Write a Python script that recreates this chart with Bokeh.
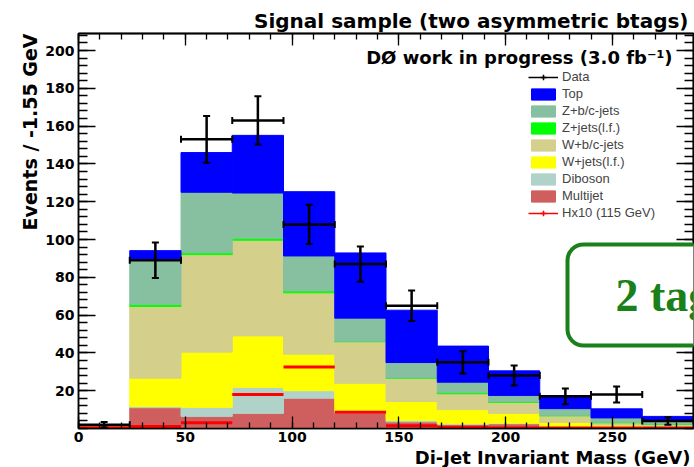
import math
from bokeh.plotting import figure
from bokeh.models import (ColumnDataSource, FixedTicker, LinearAxis, Range1d, Legend,
                          LegendItem, Label, BoxAnnotation, Whisker, TeeHead, Title)
from bokeh.embed import file_html
from bokeh.resources import INLINE

# ---------------- data ----------------
bin_edges = [0, 24, 48, 72, 96, 120, 144, 168, 192, 216, 240, 264, 288]
multijet = [0.3, 11.0, 6.4, 8.0, 16.0, 8.0, 3.5, 2.0, 2.5, 1.0, 0.8, 0.5]
diboson = [0.0, 0.6, 4.8, 13.8, 4.0, 0.6, 0.8, 0.5, 0.3, 0.2, 0.2, 0.1]
wjets_lf = [0.8, 15.0, 29.2, 27.2, 19.3, 15.3, 10.0, 7.5, 5.2, 2.0, 0.8, 0.6]
wjets_bc = [0.3, 38.0, 51.6, 50.6, 32.5, 22.0, 12.3, 8.4, 5.8, 3.5, 1.2, 1.0]
zjets_lf = [0.1, 1.0, 1.0, 1.0, 1.0, 0.3, 0.2, 0.6, 0.4, 0.3, 0.3, 0.2]
zjets_bc = [0.2, 24.0, 32.0, 24.0, 18.5, 12.2, 8.1, 5.5, 3.3, 3.5, 2.3, 1.5]
top = [0.1, 4.5, 21.0, 30.5, 34.0, 34.5, 27.7, 19.1, 13.0, 6.2, 4.8, 2.5]
data = [2, 89, 153, 163, 108, 87, 65, 35, 28, 17, 18, 4]
higgs_x10 = [0.4, 1.0, 3.0, 18.0, 32.6, 8.6, 1.5, 0.7, 0.3, 0.2, 0.2, 0.2]

stack_names = ["multijet", "diboson", "wjets_lf", "wjets_bc", "zjets_lf", "zjets_bc", "top"]
stack_labels = ["Multijet", "Diboson", "W+jets(l.f.)", "W+b/c-jets", "Z+jets(l.f.)",
                "Z+b/c-jets", "Top"]
stack_colors = ["#cf5e5e", "#b0d2c8", "#ffff00", "#d4cf8a", "#00ff00", "#86c0a0", "#0000ff"]

y_ticks = [20, 40, 60, 80, 100, 120, 140, 160, 180, 200]
x_ticks = [0, 50, 100, 150, 200, 250]

# ---------------- sources ----------------
left = bin_edges[:-1]
right = bin_edges[1:]
centers = [(a + b) / 2 for a, b in zip(left, right)]
widths = [b - a for a, b in zip(left, right)]

src = ColumnDataSource(dict(x=centers, w=widths, multijet=multijet, diboson=diboson,
                            wjets_lf=wjets_lf, wjets_bc=wjets_bc, zjets_lf=zjets_lf,
                            zjets_bc=zjets_bc, top=top))
err = [math.sqrt(d) for d in data]
dsrc = ColumnDataSource(dict(x=centers, y=data, lo=[d - e for d, e in zip(data, err)],
                             hi=[d + e for d, e in zip(data, err)], x0=left, x1=right))
hsrc = ColumnDataSource(dict(x0=left, x1=right, y=higgs_x10))

FONT = "DejaVu Sans"

p = figure(width=694, height=467, x_range=Range1d(0, 288), y_range=Range1d(0, 209),
           output_backend="svg", toolbar_location=None,
           min_border_left=78, min_border_right=1, min_border_top=33, min_border_bottom=39)
p.background_fill_color = "white"
p.border_fill_color = "white"
p.xgrid.visible = False
p.ygrid.visible = False
p.outline_line_color = "black"
p.outline_line_width = 1.5

# title (right aligned, ROOT style)
p.title.text = "Signal sample (two asymmetric btags)"
p.title.align = "right"
p.title.offset = 5
p.title.standoff = 2
p.title.text_font = FONT
p.title.text_font_style = "bold"
p.title.text_font_size = "20px"
p.title.text_color = "black"

# stacked histogram
bars = p.vbar_stack(stack_names, x="x", width="w", color=stack_colors, source=src)

# Higgs x10
p.segment(x0="x0", x1="x1", y0="y", y1="y", line_color="#ff0000", line_width=3, source=hsrc)

# data with error bars
vw = Whisker(source=dsrc, base="x", lower="lo", upper="hi", dimension="height",
             line_color="black", line_width=2.5, level="annotation",
             upper_head=TeeHead(size=7, line_width=2, line_color="black"),
             lower_head=TeeHead(size=7, line_width=2, line_color="black"))
hw = Whisker(source=dsrc, base="y", lower="x0", upper="x1", dimension="width",
             line_color="black", line_width=2.5, level="annotation",
             upper_head=TeeHead(size=7, line_width=2, line_color="black"),
             lower_head=TeeHead(size=7, line_width=2, line_color="black"))
p.add_layout(vw)
p.add_layout(hw)

# ---------------- axes ----------------
yt = FixedTicker(ticks=y_ticks, minor_ticks=list(range(0, 212, 4)))
xt = FixedTicker(ticks=x_ticks, minor_ticks=list(range(0, 290, 10)))


def style_axis(ax, tick_major, tick_minor):
    ax.axis_line_color = "black"
    ax.axis_line_width = 1.5
    ax.major_tick_line_color = "black"
    ax.minor_tick_line_color = "black"
    ax.major_tick_line_width = 1.3
    ax.minor_tick_line_width = 1.3
    ax.major_tick_in = tick_major
    ax.major_tick_out = 0
    ax.minor_tick_in = tick_minor
    ax.minor_tick_out = 0
    ax.major_label_text_font = FONT
    ax.major_label_text_font_style = "bold"
    ax.major_label_text_font_size = "14px"
    ax.major_label_text_color = "black"


p.yaxis.ticker = yt
p.xaxis.ticker = xt
style_axis(p.yaxis[0], 17, 9)
style_axis(p.xaxis[0], 12, 6)
p.yaxis.major_label_standoff = 4
p.xaxis.major_label_standoff = 3

# mirrored ticks on the right and top: label-free axes (only minor-tick lists)
for minor, ln in [(list(range(0, 212, 4)), 9), (y_ticks, 17)]:
    ax = LinearAxis(ticker=FixedTicker(ticks=[], minor_ticks=minor))
    style_axis(ax, 0, ln)
    ax.major_label_standoff = 0
    p.add_layout(ax, "right")
for minor, ln in [(list(range(0, 290, 10)), 6), (x_ticks, 12)]:
    ax = LinearAxis(ticker=FixedTicker(ticks=[], minor_ticks=minor))
    style_axis(ax, 0, ln)
    ax.major_label_standoff = 0
    p.add_layout(ax, "above")

# axis titles (ROOT style: aligned to the far end of each axis)
ytitle = Title(text="Events / -1.55 GeV", align="right", offset=0, standoff=4,
               text_font=FONT, text_font_style="bold", text_font_size="19px",
               text_color="black")
p.add_layout(ytitle, "left")
xtitle = Title(text="Di-Jet Invariant Mass (GeV)", align="right", offset=3, standoff=0,
               text_font=FONT, text_font_style="bold", text_font_size="18px",
               text_color="black")
p.add_layout(xtitle, "below")

# ---------------- legend ----------------
leg_data_line = p.line([-100], [-100], line_color="black", line_width=1.5)
leg_data_mark = p.scatter([-100], [-100], marker="cross", size=13, line_color="black",
                          line_width=1.5)
leg_h_line = p.line([-100], [-100], line_color="#ff0000", line_width=1.5)
leg_h_mark = p.scatter([-100], [-100], marker="cross", size=13, line_color="#ff0000",
                       fill_color="#ff0000", line_width=1.5)

items = [LegendItem(label="Data", renderers=[leg_data_line, leg_data_mark])]
for r, lab in reversed(list(zip(bars, stack_labels))):
    items.append(LegendItem(label=lab, renderers=[r]))
items.append(LegendItem(label="Hx10 (115 GeV)", renderers=[leg_h_line, leg_h_mark]))

legend = Legend(items=items, location=(450, 208), orientation="vertical",
                glyph_width=30, glyph_height=14, label_height=14, spacing=2,
                label_standoff=4, padding=0, margin=0,
                label_text_font="Liberation Sans", label_text_font_size="13px",
                border_line_color=None, background_fill_alpha=0)
p.add_layout(legend, "center")

# ---------------- texts inside the frame ----------------
FX, FY = 78, 428  # frame origin in canvas px (left, bottom)

p.add_layout(Label(x=672 - FX, y=FY - 57, x_units="screen", y_units="screen",
                   text="DØ work in progress (3.0 fb⁻¹)", text_align="right",
                   text_baseline="alphabetic", text_font=FONT, text_font_style="bold",
                   text_font_size="18px", text_color="black"))

# slide overlay box "2 tag"
GREEN = "#1a801a"
p.add_layout(BoxAnnotation(left=567 - FX, right=760 - FX, top=FY - 244, bottom=FY - 345,
                           left_units="screen", right_units="screen", top_units="screen",
                           bottom_units="screen", fill_color="white", fill_alpha=1,
                           line_color=GREEN, line_alpha=1, line_width=4, border_radius=16))
p.add_layout(Label(x=615 - FX, y=FY - 295, x_units="screen", y_units="screen",
                   text="2 tag", text_align="left", text_baseline="alphabetic",
                   text_font="Liberation Serif", text_font_style="bold",
                   text_font_size="46px", text_color=GREEN))

open("out.html", "w").write(file_html(p, INLINE))
